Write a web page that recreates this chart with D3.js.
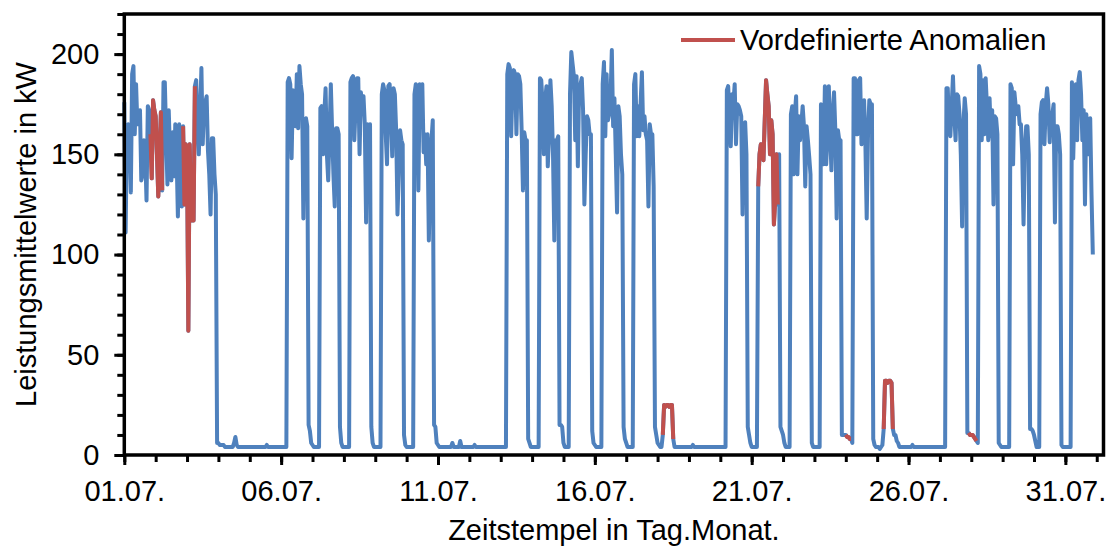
<!DOCTYPE html>
<html>
<head>
<meta charset="utf-8">
<script src="https://cdn.jsdelivr.net/npm/d3@7"></script>
<style>
  body { margin: 0; background: #fff; }
  text { font-family: "Liberation Sans", Arial, sans-serif; fill: #000; }
</style>
</head>
<body>
<svg id="chart" width="1113" height="546"></svg>
<script>
// Stundenmittelwerte in kW, Juli 2020, ein Array pro Tag (00:00 bis 23:00)
const woche27 = [ // 01.07. - 05.07.
  [176,111,160,165,163,131,190,194,160,185,165,168,172,137,140,157,150,127,174,172,160,138,177,172],
  [169,150,129,150,171,132,186,186,160,135,172,150,137,161,139,165,150,119,165,150,124,164,125,155],
  [150,62,155,125,117,117,184,187,165,150,170,193,155,174,176,179,152,140,120,158,158,140,130,6],
  [6,5,5,5,5,4,4,4,4,4,4,4,6,9,5,4,4,4,4,4,4,4,4,4],
  [4,4,4,4,4,4,4,4,4,4,4,4,4,5,4,4,4,4,4,4,4,4,4,4]
];
const woche28 = [ // 06.07. - 12.07.
  [4,4,4,4,4,186,188,185,148,182,170,164,190,163,194,185,180,118,167,168,164,15,12,6],
  [5,4,4,4,4,4,173,174,150,170,183,150,137,160,185,162,140,124,163,163,160,14,6,4],
  [4,4,4,4,4,186,188,189,157,175,188,188,150,181,175,179,165,116,165,160,165,14,6,4],
  [4,4,4,4,4,180,185,182,160,145,184,185,170,149,183,180,162,120,140,162,157,155,10,5],
  [4,4,4,4,4,4,180,185,184,132,185,180,185,151,160,145,160,107,140,157,167,15,14,6],
  [5,4,4,4,4,4,4,4,4,4,4,6,4,4,4,4,4,7,4,4,4,4,4,4],
  [4,4,4,4,5,4,4,4,4,4,4,4,4,4,4,4,4,4,4,4,4,4,4,4]
];
const woche29 = [ // 13.07. - 19.07.
  [4,4,4,4,4,190,195,193,159,185,192,190,160,190,189,185,162,132,161,157,157,8,6,4],
  [4,4,4,4,4,4,188,187,175,150,177,184,144,160,187,174,150,107,157,157,159,15,15,14],
  [6,4,4,4,4,180,201,195,189,157,189,144,184,185,188,172,125,150,169,167,160,160,12,6],
  [5,4,4,4,4,4,185,196,159,190,167,170,178,202,164,178,150,121,174,169,150,140,14,8],
  [6,4,4,4,4,4,185,190,159,174,159,175,191,162,169,160,157,124,165,160,160,134,14,10],
  [6,5,4,4,10,25,24,25,25,24,25,25,8,4,4,4,4,4,4,4,4,4,4,4],
  [4,4,4,5,4,4,4,4,4,4,4,4,4,4,4,4,4,4,4,4,4,4,4,4]
];
const woche30 = [ // 20.07. - 26.07.
  [4,4,4,4,4,182,184,170,154,180,175,185,155,175,174,172,169,120,165,166,150,14,10,6],
  [4,4,4,4,4,134,150,155,154,147,167,187,180,174,150,167,160,115,127,150,125,150,14,12],
  [10,6,4,4,4,4,170,174,140,170,179,140,169,157,165,174,164,134,164,157,149,140,6,4],
  [4,4,4,4,4,175,170,145,184,145,160,184,162,142,170,181,162,118,162,157,157,10,10,10],
  [10,9,9,8,8,6,188,188,160,160,187,188,155,170,177,155,118,160,177,175,175,8,5,4],
  [4,4,3,4,5,13,37,37,36,37,37,36,13,10,10,7,6,4,4,4,4,4,4,4],
  [4,4,4,5,4,4,4,4,4,4,4,4,4,4,4,4,4,4,4,4,4,4,4,4]
];
const woche31 = [ // 27.07. - 31.07.
  [4,4,4,4,4,183,183,165,159,174,189,170,157,180,179,170,150,114,165,178,170,11,11,10],
  [10,10,9,8,7,6,194,190,157,187,160,188,174,157,178,159,172,125,169,168,160,6,5,4],
  [4,4,4,4,4,4,185,183,145,181,174,170,174,165,165,150,115,150,164,164,150,13,13,12],
  [10,7,4,4,4,170,176,177,155,175,183,175,156,170,170,175,116,164,164,160,150,5,4,4],
  [4,4,4,4,4,186,148,175,185,157,187,191,180,157,172,125,170,160,150,168,130,100]
];

// vordefinierte Anomalien (Start, Ende)
const anomalien = [
  ["2020-07-01T20:00Z", "2020-07-02T05:00Z"],
  ["2020-07-02T21:00Z", "2020-07-03T06:00Z"],
  ["2020-07-18T04:00Z", "2020-07-18T12:00Z"],
  ["2020-07-21T05:00Z", "2020-07-21T20:00Z"],
  ["2020-07-24T00:00Z", "2020-07-24T04:00Z"],
  ["2020-07-25T05:00Z", "2020-07-25T12:00Z"],
  ["2020-07-27T22:00Z", "2020-07-28T04:00Z"]
];

const xTickTage = [1, 6, 11, 16, 21, 26, 31];
const yTicks = [0, 50, 100, 150, 200];

const blau = "#4f81bd", rot = "#c0504d";
const links = 124.3, rechts = 1103.5, oben = 14, unten = 455;

const svg = d3.select("#chart");

const t0 = Date.UTC(2020, 6, 1);
const werte = [].concat(woche27, woche28, woche29, woche30, woche31).flat();
const daten = werte.map(function(v, i) {
  return { t: new Date(t0 + i * 36e5), v: v };
});

const x = d3.scaleUtc()
  .domain([new Date(t0), new Date(Date.UTC(2020, 7, 1, 5, 10))])
  .range([links, rechts]);
const y = d3.scaleLinear().domain([0, 220]).range([unten, oben]);

const linie = d3.line()
  .x(d => x(d.t))
  .y(d => y(d.v));

// Messwerte
svg.append("path")
  .datum(daten)
  .attr("d", linie)
  .attr("fill", "none")
  .attr("stroke", blau)
  .attr("stroke-width", 4)
  .attr("stroke-linejoin", "round");

// Anomalien drueber
anomalien.forEach(function(a) {
  var von = new Date(a[0]), bis = new Date(a[1]);
  var teil = daten.filter(d => d.t >= von && d.t <= bis);
  svg.append("path")
    .datum(teil)
    .attr("d", linie)
    .attr("fill", "none")
    .attr("stroke", rot)
    .attr("stroke-width", 4)
    .attr("stroke-linejoin", "round");
});

// x-Achse: kleine Striche pro Tag, grosse alle 5 Tage
const tage = d3.utcDays(new Date(t0), new Date(Date.UTC(2020, 7, 1, 1)));
const xMajor = xTickTage.map(t => new Date(Date.UTC(2020, 6, t)));

var gxMinor = svg.append("g").attr("transform", "translate(0," + unten + ")")
  .call(d3.axisBottom(x).tickValues(tage).tickSize(7).tickSizeOuter(0).tickFormat(""));
var gx = svg.append("g").attr("transform", "translate(0," + unten + ")")
  .call(d3.axisBottom(x).tickValues(xMajor).tickSize(10).tickSizeOuter(0)
    .tickPadding(15).tickFormat(d3.utcFormat("%d.%m.")));

// y-Achse
var gyMinor = svg.append("g").attr("transform", "translate(" + links + ",0)")
  .call(d3.axisLeft(y).tickValues(d3.range(0, 221, 10)).tickSize(7).tickSizeOuter(0).tickFormat(""));
var gy = svg.append("g").attr("transform", "translate(" + links + ",0)")
  .call(d3.axisLeft(y).tickValues(yTicks).tickSize(10).tickSizeOuter(0).tickPadding(15));

[gxMinor, gx, gyMinor, gy].forEach(function(g) {
  g.select(".domain").remove();
  g.selectAll(".tick line").attr("stroke", "#000").attr("stroke-width", 3);
  g.selectAll(".tick text")
    .attr("fill", "#000")
    .style("font-size", "29px")
    .style("font-family", '"Liberation Sans", Arial, sans-serif');
});

// Rahmen
svg.append("rect")
  .attr("x", links).attr("y", oben)
  .attr("width", rechts - links).attr("height", unten - oben)
  .attr("fill", "none")
  .attr("stroke", "#000")
  .attr("stroke-width", 3.5);

// Achsentitel
svg.append("text")
  .attr("x", (links + rechts) / 2)
  .attr("y", 540)
  .attr("text-anchor", "middle")
  .style("font-size", "29px")
  .text("Zeitstempel in Tag.Monat.");

svg.append("text")
  .attr("transform", "translate(36," + ((oben + unten) / 2) + ") rotate(-90)")
  .attr("text-anchor", "middle")
  .style("font-size", "29px")
  .text("Leistungsmittelwerte in kW");

// Legende
svg.append("line")
  .attr("x1", 681).attr("x2", 735)
  .attr("y1", 40).attr("y2", 40)
  .attr("stroke", rot)
  .attr("stroke-width", 4);
svg.append("text")
  .attr("x", 740).attr("y", 50)
  .style("font-size", "29px")
  .text("Vordefinierte Anomalien");
</script>
</body>
</html>
